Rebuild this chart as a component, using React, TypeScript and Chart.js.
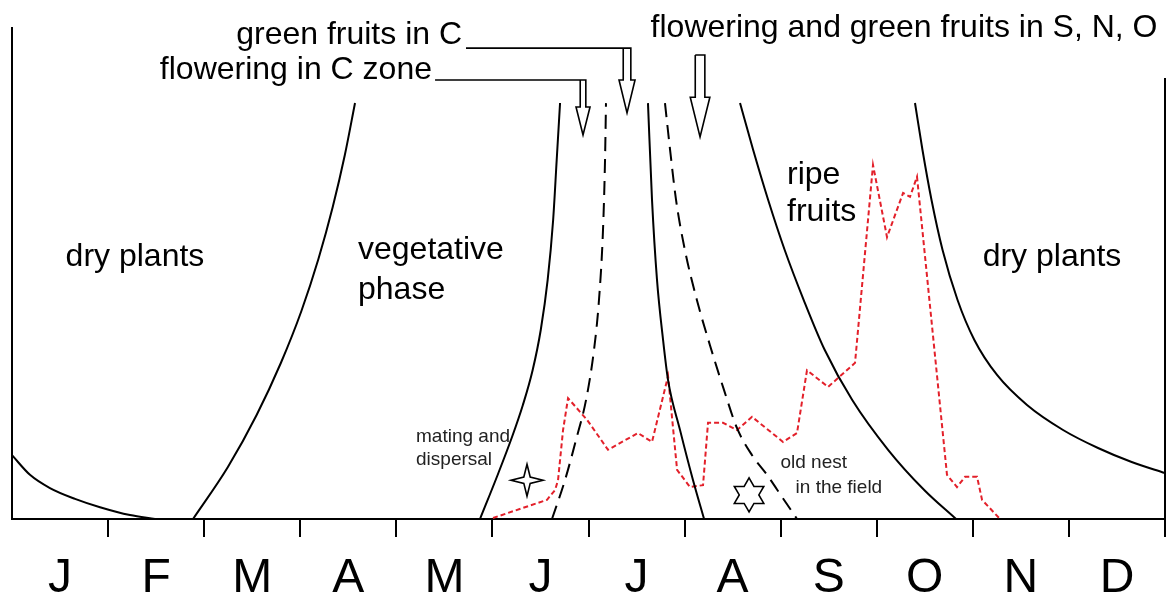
import { useEffect, useRef } from "react";
import { Chart, registerables } from "chart.js";

Chart.register(...registerables);

type Pt = [number, number];

// x = months from 1 January (0..12), y = relative abundance / phenology height (0..100)
const monthLabels = ["J", "F", "M", "A", "M", "J", "J", "A", "S", "O", "N", "D"];

const dryPlantsEnd: Pt[] = [
  [0, 13.0], [0.187, 9.0], [0.395, 6.3], [0.656, 4.1], [0.916, 2.4], [1.228, 0.8], [1.488, 0],
];
const vegetativeStart: Pt[] = [
  [1.884, 0], [2.247, 10.59], [2.546, 21.18], [2.798, 31.77], [3.012, 42.36], [3.189, 52.95], [3.338, 63.54], [3.464, 74.13], [3.57, 84.73],
];
const floweringStartC: Pt[] = [
  [4.871, 0], [5.05, 8.76], [5.204, 16.7], [5.317, 23.22], [5.419, 30.35], [5.503, 38.49], [5.575, 48.68],
  [5.632, 60.9], [5.669, 73.12], [5.704, 84.73],
];
const greenFruitStartC: Pt[] = [
  [5.62, 0], [5.755, 7.9], [5.87, 16.1], [5.974, 24.2], [6.057, 34.4], [6.109, 44.6], [6.151, 58.9], [6.172, 73.1], [6.182, 84.7],
];
const floweringEndC: Pt[] = [
  [6.619, 84.7], [6.661, 65.0], [6.713, 48.7], [6.776, 36.5], [6.828, 28.3], [6.953, 18.1], [7.088, 7.9], [7.203, 0],
];
const greenFruitEndC: Pt[] = [
  [6.796, 84.7], [6.849, 75.2], [6.911, 65.0], [7.003, 54.8], [7.128, 44.6], [7.264, 35.4], [7.41, 26.3],
  [7.546, 18.5], [7.702, 13.0], [7.858, 9.0], [8.014, 4.5], [8.17, 0],
];
const ripeFruitStart: Pt[] = [
  [7.577, 84.73], [7.714, 75.15], [7.87, 64.97], [8.042, 54.79], [8.24, 44.6], [8.459, 34.42], [8.745, 24.24],
  [9.12, 14.05], [9.494, 5.91], [9.825, 0],
];
const dryPlantsStart: Pt[] = [
  [9.398, 84.73], [9.476, 75.15], [9.57, 64.97], [9.685, 54.79], [9.841, 44.6], [10.016, 36.46], [10.252, 29.33],
  [10.564, 23.22], [10.939, 18.13], [11.303, 14.46], [11.653, 11.61], [12, 9.37],
];
const yearEnd: Pt[] = [
  [12, 0], [12, 89.8],
];
const insectActivity: Pt[] = [
  [5.006, 0.2], [5.568, 3.9], [5.652, 5.9], [5.683, 7.9], [5.735, 18.1], [5.787, 24.6], [5.985, 20.2],
  [6.203, 14.1], [6.515, 17.5], [6.661, 15.7], [6.828, 29.1], [6.922, 10.0], [7.057, 6.5], [7.192, 6.9],
  [7.244, 19.6], [7.4, 19.6], [7.546, 18.1], [7.702, 20.8], [8.025, 15.7], [8.17, 17.5], [8.274, 30.3],
  [8.493, 26.9], [8.774, 31.8], [8.961, 72.1], [9.107, 57.4], [9.274, 66.4], [9.346, 65.6], [9.419, 69.7],
  [9.731, 9.0], [9.835, 6.5], [9.919, 8.6], [10.044, 8.6], [10.096, 3.9], [10.273, 0.2],
];

const FONT = '"Liberation Sans", Arial, Helvetica, sans-serif';

// annotation layout (data coordinates)
const textNotes = [
  { text: "dry plants", x: 1.28, y: 53.4, size: 32, align: "center", color: "#000" },
  { text: "dry plants", x: 10.824, y: 53.4, size: 32, align: "center", color: "#000" },
  { text: "vegetative", x: 3.601, y: 54.8, size: 32, align: "left", color: "#000" },
  { text: "phase", x: 3.601, y: 46.6, size: 32, align: "left", color: "#000" },
  { text: "ripe", x: 8.066, y: 70.1, size: 32, align: "left", color: "#000" },
  { text: "fruits", x: 8.066, y: 62.5, size: 32, align: "left", color: "#000" },
  { text: "green fruits in C", x: 4.684, y: 98.6, size: 32, align: "right", color: "#000" },
  { text: "flowering in C zone", x: 4.371, y: 91.4, size: 32, align: "right", color: "#000" },
  { text: "flowering and green fruits in S, N, O", x: 9.284, y: 100, size: 32, align: "center", color: "#000" },
  { text: "mating and", x: 4.205, y: 16.7, size: 19, align: "left", color: "#222" },
  { text: "dispersal", x: 4.205, y: 12.0, size: 19, align: "left", color: "#222" },
  { text: "old nest", x: 7.998, y: 11.4, size: 19, align: "left", color: "#222" },
  { text: "in the field", x: 8.155, y: 6.3, size: 19, align: "left", color: "#222" },
];

const arrowNotes = [
  { x: 6.401, top: 95.9, headTop: 89.4, tip: 82.7, shaft: 3.8, head: 8, from: 4.725 },
  { x: 5.943, top: 89.4, headTop: 83.9, tip: 78.2, shaft: 2.8, head: 7, from: 4.403 },
  { x: 7.161, top: 94.5, headTop: 85.9, tip: 77.8, shaft: 4.8, head: 9.8, from: null as number | null },
];

const starNotes = [
  { x: 5.36, y: 7.9, points: 4, outer: 16, inner: 4.5 },
  { x: 7.671, y: 4.9, points: 6, outer: 17, inner: 9.8 },
];

const annotationPlugin = {
  id: "phenologyNotes",
  afterDatasetsDraw(chart: any) {
    const { ctx, scales } = chart;
    const px = (m: number) => scales.x.getPixelForValue(m);
    const py = (v: number) => scales.y.getPixelForValue(v);
    ctx.save();
    ctx.strokeStyle = "#000";
    ctx.fillStyle = "#fff";
    ctx.lineWidth = 1.6;
    ctx.lineJoin = "miter";
    for (const a of arrowNotes) {
      const cx = px(a.x);
      const top = py(a.top);
      const ht = py(a.headTop);
      const tip = py(a.tip);
      ctx.beginPath();
      if (a.from !== null) {
        ctx.moveTo(px(a.from), top);
        ctx.lineTo(cx + a.shaft, top);
      } else {
        ctx.moveTo(cx - a.shaft, top);
        ctx.lineTo(cx + a.shaft, top);
      }
      ctx.lineTo(cx + a.shaft, ht);
      ctx.lineTo(cx + a.head, ht);
      ctx.lineTo(cx, tip);
      ctx.lineTo(cx - a.head, ht);
      ctx.lineTo(cx - a.shaft, ht);
      ctx.lineTo(cx - a.shaft, top);
      ctx.stroke();
    }
    for (const s of starNotes) {
      const cx = px(s.x);
      const cy = py(s.y);
      ctx.beginPath();
      const n = s.points * 2;
      for (let i = 0; i < n; i++) {
        const ang = -Math.PI / 2 + (i * Math.PI) / s.points;
        const r = i % 2 === 0 ? s.outer : s.inner;
        const xx = cx + r * Math.cos(ang);
        const yy = cy + r * Math.sin(ang);
        if (i === 0) ctx.moveTo(xx, yy);
        else ctx.lineTo(xx, yy);
      }
      ctx.closePath();
      ctx.fill();
      ctx.stroke();
    }
    ctx.textBaseline = "middle";
    for (const t of textNotes) {
      ctx.font = `${t.size}px ${FONT}`;
      ctx.fillStyle = t.color;
      ctx.textAlign = t.align as CanvasTextAlign;
      ctx.fillText(t.text, px(t.x), py(t.y));
    }
    ctx.restore();
  },
};

const solid = (pts: Pt[]) => ({
  data: pts.map(([x, y]) => ({ x, y })),
  borderColor: "#000",
  borderWidth: 2,
  pointRadius: 0,
  cubicInterpolationMode: "monotone" as const,
  fill: false,
  clip: false as const,
});
const dashed = (pts: Pt[]) => ({ ...solid(pts), borderDash: [14, 8] });

export default function App() {
  const ref = useRef<HTMLCanvasElement>(null);
  useEffect(() => {
    document.body.style.margin = "0";
    const chart = new Chart(ref.current as HTMLCanvasElement, {
      type: "line",
      data: {
        datasets: [
          solid(dryPlantsEnd),
          solid(vegetativeStart),
          solid(floweringStartC),
          dashed(greenFruitStartC),
          solid(floweringEndC),
          dashed(greenFruitEndC),
          solid(ripeFruitStart),
          solid(dryPlantsStart),
          { ...solid(yearEnd), cubicInterpolationMode: "default", tension: 0 },
          {
            data: insectActivity.map(([x, y]) => ({ x, y })),
            borderColor: "#e3202a",
            borderWidth: 2,
            borderDash: [5, 3],
            pointRadius: 0,
            tension: 0,
            fill: false,
            clip: false as const,
          },
        ] as any,
      },
      options: {
        responsive: false,
        animation: false,
        layout: { padding: { left: 12, right: 3, top: 28, bottom: 0 } },
        plugins: { legend: { display: false }, tooltip: { enabled: false } },
        scales: {
          x: {
            type: "linear",
            position: "bottom",
            min: 0,
            max: 12,
            weight: 0,
            ticks: { display: false, stepSize: 1 },
            grid: {
              drawOnChartArea: false,
              drawTicks: true,
              tickLength: 18,
              lineWidth: 2,
              color: (c: any) => (c.tick && c.tick.value === 0 ? "rgba(0,0,0,0)" : "#000"),
            },
            border: { display: true, color: "#000", width: 2 },
          },
          x2: {
            type: "category",
            position: "bottom",
            labels: monthLabels,
            offset: true,
            weight: 1,
            grid: { display: false, drawTicks: false },
            border: { display: false },
            ticks: {
              padding: 24,
              color: "#000",
              autoSkip: false,
              maxRotation: 0,
              font: { family: FONT, size: 48, lineHeight: 0.75 },
            },
            afterFit: (scale: any) => {
              scale.height = 58;
            },
          },
          y: {
            type: "linear",
            min: 0,
            max: 100,
            grid: { display: false, drawTicks: false },
            ticks: { display: false },
            border: { display: true, color: "#000", width: 2 },
          },
        } as any,
      },
      plugins: [annotationPlugin],
    });
    return () => chart.destroy();
  }, []);
  return (
    <div style={{ position: "absolute", left: 0, top: 0, width: 1168, height: 595, background: "#fff" }}>
      <canvas ref={ref} width={1168} height={595} style={{ display: "block" }} />
    </div>
  );
}
